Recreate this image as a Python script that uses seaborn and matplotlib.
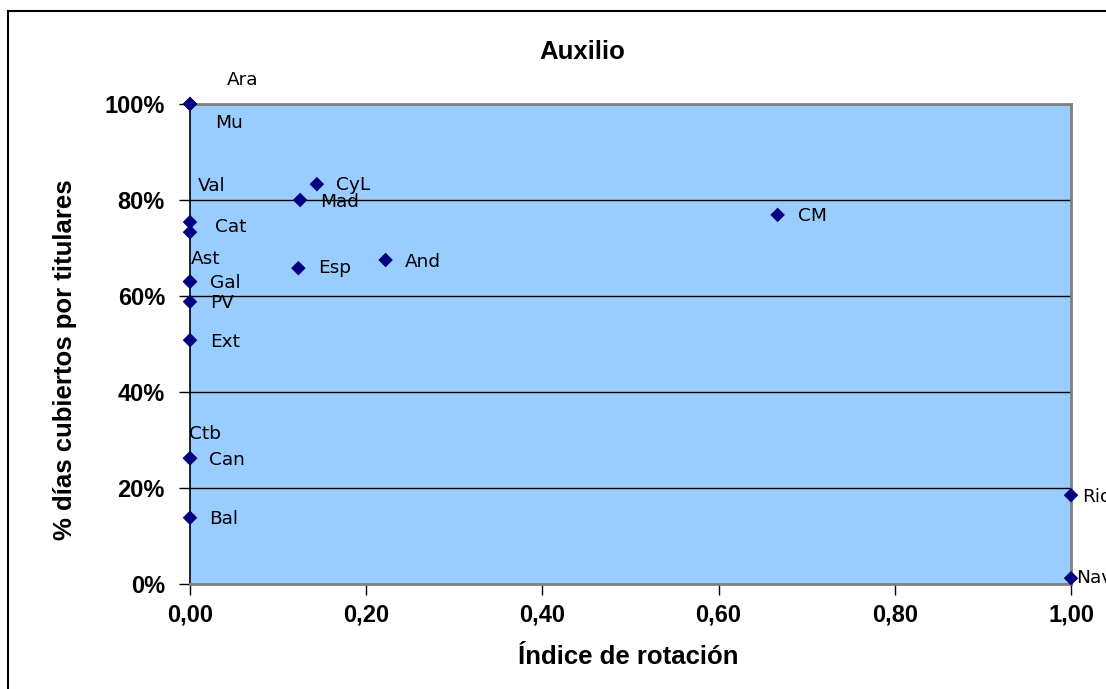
"""
Scatter chart: rotation index vs % days covered by holders (Auxilio).
"""

import pandas as pd
import seaborn as sns
import matplotlib.pyplot as plt
from matplotlib.patches import Rectangle
from matplotlib.ticker import FuncFormatter

# Data
regions = ['Ara', 'Mu', 'Val', 'Cat', 'Ast', 'Gal', 'PV', 'Ext', 'Ctb', 'Can',
           'Bal', 'Rio', 'Nav', 'CyL', 'Mad', 'Esp', 'And', 'CM']
rotation = [0.0, 0.0, 0.0, 0.0, 0.0, 0.0, 0.0, 0.0, 0.0, 0.0,
            0.0, 1.0, 1.0, 0.144, 0.125, 0.123, 0.222, 0.667]
coverage = [1.000, 1.000, 0.754, 0.733, 0.630, 0.630, 0.588, 0.508, 0.262, 0.262,
            0.138, 0.185, 0.012, 0.833, 0.800, 0.658, 0.675, 0.769]

# label offsets in pixels (dx, dy) relative to each point
offsets = {'Ara': (37, 24), 'Mu': (25, -19), 'Val': (8, 36), 'Cat': (25, 5),
           'Ast': (1, 23), 'Gal': (20, -1), 'PV': (20, -1), 'Ext': (20, -2),
           'Ctb': (-1, 24), 'Can': (19, -2), 'Bal': (19, -1), 'Rio': (11, -2),
           'Nav': (5, 0), 'CyL': (19, -1), 'Mad': (20, -2), 'Esp': (20, 0),
           'And': (19, -2), 'CM': (20, -1)}

df = pd.DataFrame({'Region': regions, 'Rotacion': rotation, 'Cobertura': coverage})

sns.set_style('white')
plt.rcParams['font.family'] = ['Liberation Sans', 'DejaVu Sans']
plt.rcParams['text.color'] = 'black'
plt.rcParams['axes.labelcolor'] = 'black'
plt.rcParams['xtick.color'] = 'black'
plt.rcParams['ytick.color'] = 'black'

fig = plt.figure(figsize=(11.06, 6.89), dpi=100)
ax = fig.add_axes([190 / 1106, 1 - 584 / 689, 881 / 1106, 480 / 689])
ax.set_facecolor('#99CCFF')

sns.scatterplot(data=df, x='Rotacion', y='Cobertura', marker='D', s=55,
                color='#000080', edgecolor='none', ax=ax, zorder=3, clip_on=False)

for name, xv, yv in zip(regions, rotation, coverage):
    dx, dy = offsets[name]
    ax.annotate(name, (xv, yv), xytext=(dx * 0.72, dy * 0.72),
                textcoords='offset points', ha='left', va='center',
                fontsize=13.3, family='DejaVu Sans', color='black',
                annotation_clip=False, zorder=4)

ax.set_xlim(0, 1)
ax.set_ylim(0, 1)
ax.set_xticks([0, 0.2, 0.4, 0.6, 0.8, 1.0])
ax.set_yticks([0, 0.2, 0.4, 0.6, 0.8, 1.0])
ax.xaxis.set_major_formatter(FuncFormatter(lambda v, p: f'{v:.2f}'.replace('.', ',')))
ax.yaxis.set_major_formatter(FuncFormatter(lambda v, p: f'{v * 100:.0f}%'))
ax.grid(axis='y', color='black', linewidth=1)
ax.set_axisbelow(True)
ax.set_xlabel('')
ax.set_ylabel('')

ax.tick_params(axis='both', which='major', direction='out', length=8, width=1,
               color='black', labelsize=17, left=True, bottom=True)
ax.tick_params(axis='y', pad=10)
ax.tick_params(axis='x', pad=6)
for lbl in ax.get_xticklabels() + ax.get_yticklabels():
    lbl.set_fontweight('bold')

for side in ['top', 'right', 'bottom']:
    ax.spines[side].set_color('#808080')
    ax.spines[side].set_linewidth(2)
ax.spines['left'].set_color('black')
ax.spines['left'].set_linewidth(1.2)

fig.text(582 / 1106, 1 - 52 / 689, 'Auxilio', fontsize=18.5, fontweight='bold',
         ha='center', va='center')
fig.text(628 / 1106, 1 - 657 / 689, 'Índice de rotación', fontsize=18.5,
         fontweight='bold', ha='center', va='center')
fig.text(65 / 1106, 1 - 360 / 689, '% días cubiertos por titulares', fontsize=18.5,
         fontweight='bold', ha='center', va='center', rotation=90)

# outer chart border (cut off at right and bottom like the reference)
fig.patches.append(Rectangle((8 / 1106, -0.05), 1.1, 1 - 11 / 689 + 0.05,
                             transform=fig.transFigure, fill=False,
                             edgecolor='black', linewidth=1.5))

fig.savefig('out.png', dpi=100)
